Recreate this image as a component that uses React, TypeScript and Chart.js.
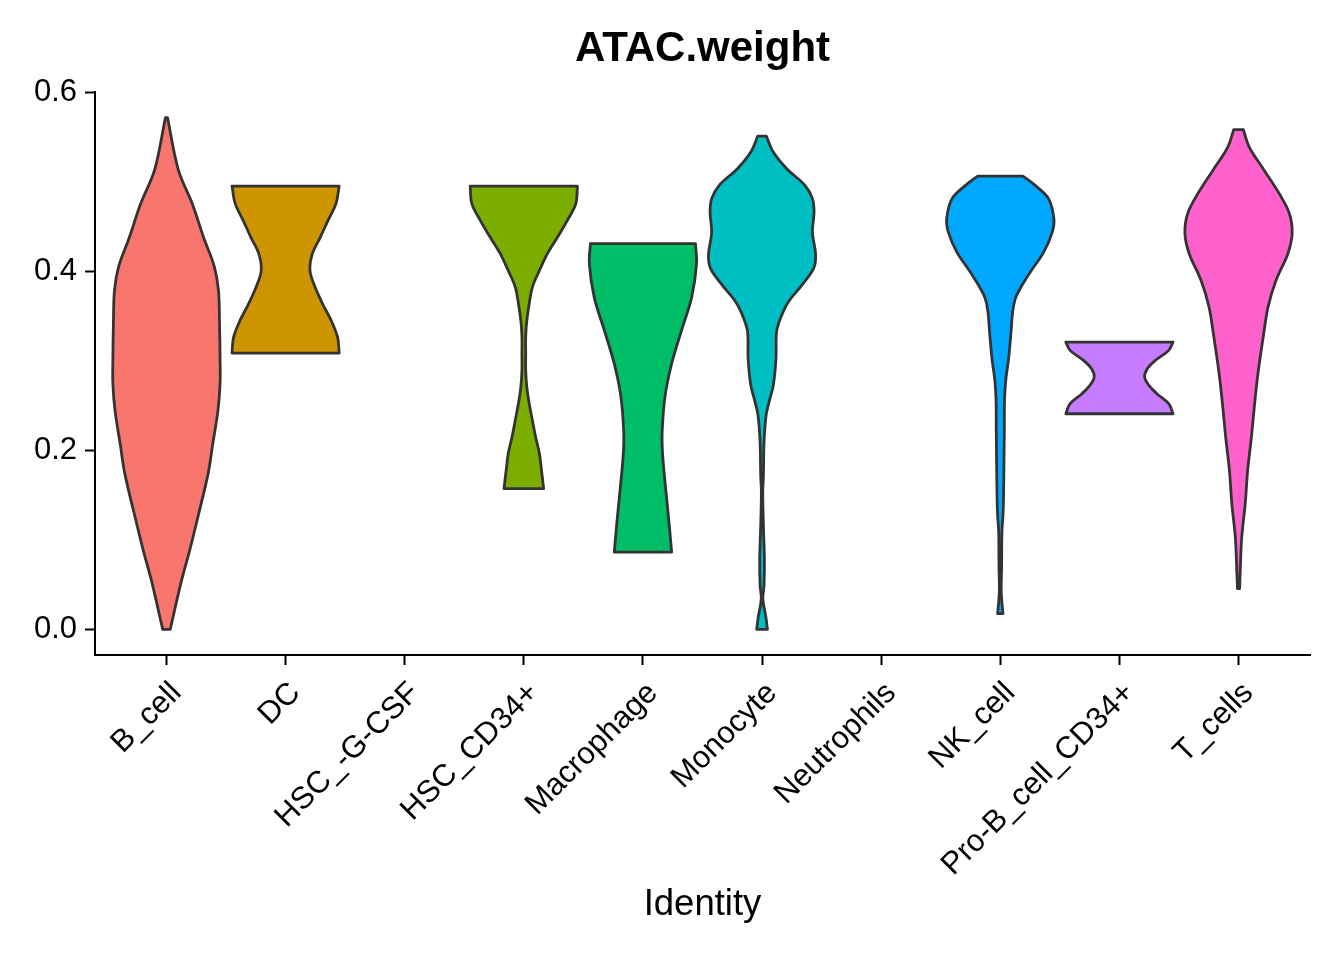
import { useEffect, useRef } from 'react';
import { Chart, registerables } from 'chart.js';

Chart.register(...registerables);

// ---- data ----
const categories = [
  'B_cell',
  'DC',
  'HSC_-G-CSF',
  'HSC_CD34+',
  'Macrophage',
  'Monocyte',
  'Neutrophils',
  'NK_cell',
  'Pro-B_cell_CD34+',
  'T_cells',
];
const yTickValues = [0, 0.2, 0.4, 0.6];

// violin profiles: value (ATAC.weight) and relative density (1 = widest)
const bCellValues = [0.0, 0.052, 0.09, 0.129, 0.175, 0.206, 0.2445, 0.275, 0.302, 0.341, 0.379, 0.406, 0.437, 0.476, 0.514, 0.572];
const bCellDensity = [0.07, 0.27, 0.44, 0.6, 0.78, 0.86, 0.96, 1.0, 1.0, 0.99, 0.97, 0.89, 0.7, 0.48, 0.22, 0.02];

const dcValues = [0.3089, 0.3267, 0.3454, 0.364, 0.3827, 0.401, 0.42, 0.4386, 0.457, 0.476, 0.4956];
const dcDensity = [1.0, 0.97, 0.85, 0.69, 0.55, 0.455, 0.5, 0.65, 0.79, 0.94, 1.0];

const hscCd34Values = [0.1573, 0.1777, 0.1968, 0.215, 0.2337, 0.2527, 0.2709, 0.2895, 0.3086, 0.3276, 0.3454, 0.364, 0.3827, 0.401, 0.42, 0.4386, 0.457, 0.476, 0.4956];
const hscCd34Density = [0.37, 0.33, 0.29, 0.22, 0.16, 0.1, 0.056, 0.035, 0.035, 0.035, 0.056, 0.1, 0.16, 0.29, 0.44, 0.63, 0.81, 0.97, 1.0];

const macrophageValues = [0.0864, 0.1107, 0.1479, 0.1852, 0.2038, 0.2225, 0.2597, 0.297, 0.3343, 0.3715, 0.4088, 0.4312];
const macrophageDensity = [0.535, 0.5, 0.44, 0.38, 0.36, 0.36, 0.41, 0.535, 0.72, 0.91, 1.0, 0.98];

const monocyteValues = [0.0, 0.0123, 0.0343, 0.0492, 0.079, 0.1163, 0.1535, 0.1722, 0.2094, 0.2392, 0.2541, 0.2728, 0.3026, 0.3324, 0.3473, 0.3659, 0.3846, 0.4032, 0.4181, 0.4442, 0.4665, 0.4815, 0.4964, 0.515, 0.5336, 0.5515];
const monocyteDensity = [0.1, 0.075, 0.015, 0.037, 0.044, 0.025, 0.013, 0.025, 0.037, 0.075, 0.13, 0.21, 0.26, 0.27, 0.34, 0.49, 0.74, 0.96, 1.0, 0.94, 0.97, 0.94, 0.8, 0.46, 0.21, 0.08];

const nkCellValues = [0.0176, 0.0417, 0.0715, 0.1088, 0.1274, 0.1461, 0.1833, 0.2206, 0.2579, 0.2803, 0.3026, 0.3324, 0.3547, 0.3697, 0.3809, 0.3994, 0.4218, 0.4442, 0.4591, 0.4815, 0.4964, 0.5068];
const nkCellDensity = [0.05, 0.018, 0.025, 0.03, 0.05, 0.06, 0.068, 0.075, 0.08, 0.105, 0.155, 0.2, 0.23, 0.28, 0.37, 0.56, 0.81, 0.97, 1.0, 0.9, 0.65, 0.42];

const proBValues = [0.2411, 0.2523, 0.2635, 0.2728, 0.2821, 0.2914, 0.3007, 0.3119, 0.3212];
const proBDensity = [1.0, 0.92, 0.7, 0.55, 0.47, 0.52, 0.67, 0.92, 1.0];

const tCellsValues = [0.0455, 0.0734, 0.1032, 0.1405, 0.1777, 0.215, 0.2523, 0.2895, 0.3306, 0.3603, 0.3902, 0.42, 0.4424, 0.4647, 0.4871, 0.5131, 0.5392, 0.5586];
const tCellsDensity = [0.02, 0.037, 0.06, 0.125, 0.17, 0.24, 0.3, 0.37, 0.47, 0.55, 0.7, 0.92, 1.0, 0.95, 0.76, 0.48, 0.2, 0.09];

const violinCategories = ['B_cell', 'DC', 'HSC_CD34+', 'Macrophage', 'Monocyte', 'NK_cell', 'Pro-B_cell_CD34+', 'T_cells'];
const violinValues = [bCellValues, dcValues, hscCd34Values, macrophageValues, monocyteValues, nkCellValues, proBValues, tCellsValues];
const violinDensity = [bCellDensity, dcDensity, hscCd34Density, macrophageDensity, monocyteDensity, nkCellDensity, proBDensity, tCellsDensity];

// ---- styles ----
const palette = ['#F8766D', '#CD9600', '#7CAE00', '#00BE67', '#00BFC4', '#00A9FF', '#C77CFF', '#FF61CC'];
const HALF_WIDTH = 0.45;
const FONT = "'Liberation Sans', Arial, Helvetica, sans-serif";

function outline(catIndex: number, values: number[], density: number[]) {
  const n = values.length;
  const right = values.map((y, i) => ({ x: catIndex + density[i] * HALF_WIDTH, y }));
  const left = values.map((y, i) => ({ x: catIndex - density[i] * HALF_WIDTH, y }));
  const pts: { x: number; y: number }[] = [];
  for (let i = 0; i < n; i++) pts.push(right[i]);
  pts.push(right[n - 1]);
  pts.push(left[n - 1]);
  for (let i = n - 1; i >= 0; i--) pts.push(left[i]);
  pts.push(left[0]);
  pts.push(right[0]);
  return pts;
}

export default function App() {
  const ref = useRef<HTMLCanvasElement | null>(null);

  useEffect(() => {
    document.body.style.margin = '0';
    const canvas = ref.current;
    if (!canvas) return;
    Chart.defaults.font.family = FONT;
    Chart.defaults.color = '#000';

    const datasets = violinCategories.map((cat, k) => ({
      label: cat,
      data: outline(categories.indexOf(cat), violinValues[k], violinDensity[k]),
      borderColor: '#333333',
      borderWidth: 2.8,
      backgroundColor: palette[k],
      fill: 'shape' as const,
      pointRadius: 0,
      pointHoverRadius: 0,
      tension: 0.35,
      borderJoinStyle: 'round' as const,
      borderCapStyle: 'round' as const,
    }));

    const chart = new Chart(canvas, {
      type: 'line',
      data: { datasets },
      options: {
        animation: false,
        responsive: false,
        events: [],
        layout: { padding: { left: 0, right: 34, top: 0, bottom: 0 } },
        plugins: {
          legend: { display: false },
          tooltip: { enabled: false },
          title: {
            display: true,
            text: 'ATAC.weight',
            fullSize: false,
            color: '#000',
            font: { size: 42, weight: 'bold', family: FONT },
            padding: { top: 24.3, bottom: 17.6 },
          },
        },
        scales: {
          x: {
            type: 'linear',
            min: -0.6,
            max: 9.6,
            offset: false,
            afterBuildTicks: (scale: any) => {
              scale.ticks = categories.map((_, i) => ({ value: i }));
            },
            afterFit: (scale: any) => {
              scale.height = 305;
            },
            grid: {
              display: true,
              drawOnChartArea: false,
              drawTicks: true,
              tickLength: 10,
              tickWidth: 2,
              tickColor: '#000',
            },
            border: { display: true, color: '#000', width: 2 },
            ticks: {
              autoSkip: false,
              maxRotation: 45,
              minRotation: 45,
              padding: 10,
              labelOffset: 10,
              color: '#000',
              font: { size: 31, family: FONT },
              callback: (_v: any, i: number) => categories[i],
            },
            title: {
              display: true,
              text: 'Identity',
              color: '#000',
              font: { size: 36.5, family: FONT },
              padding: { top: 0, bottom: 33.1 },
            },
          },
          y: {
            type: 'linear',
            min: -0.0286,
            max: 0.6004,
            afterBuildTicks: (scale: any) => {
              scale.ticks = yTickValues.map((v) => ({ value: v }));
            },
            afterFit: (scale: any) => {
              scale.width = 95;
            },
            grid: {
              display: true,
              drawOnChartArea: false,
              drawTicks: true,
              tickLength: 10,
              tickWidth: 2,
              tickColor: '#000',
            },
            border: { display: true, color: '#000', width: 2 },
            ticks: {
              padding: 8,
              color: '#000',
              font: { size: 31, family: FONT },
              callback: (v: any) => Number(v).toFixed(1),
            },
          },
        },
      } as any,
    });

    return () => chart.destroy();
  }, []);

  return (
    <div style={{ width: 1344, height: 960 }}>
      <canvas ref={ref} width={1344} height={960} style={{ width: 1344, height: 960, display: 'block' }} />
    </div>
  );
}
